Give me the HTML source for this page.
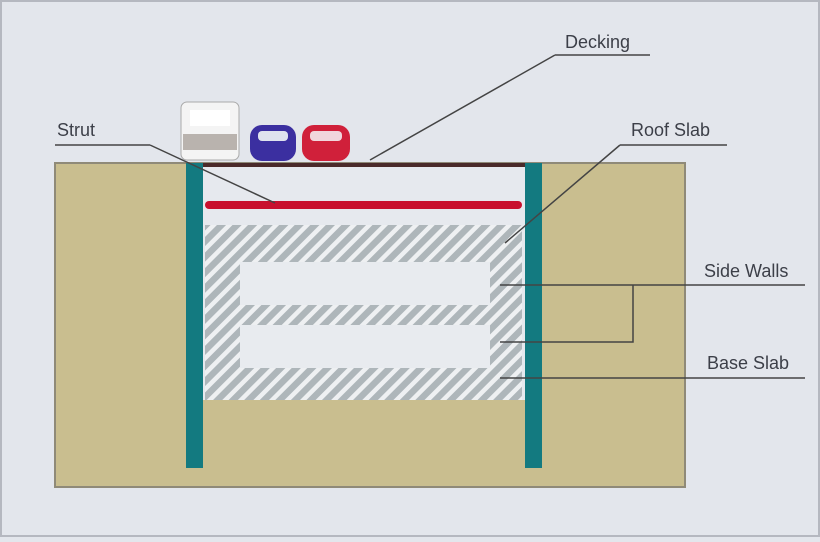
<!DOCTYPE html>
<html><head><style>
body{margin:0;width:820px;height:537px;overflow:hidden;background:#e3e6ec;font-family:"Liberation Sans",sans-serif}
</style></head><body>
<svg width="820" height="537" xmlns="http://www.w3.org/2000/svg">
<defs>
<pattern id="h" width="11" height="11" patternUnits="userSpaceOnUse" patternTransform="rotate(45)">
<rect width="11" height="11" fill="#aeb6ba"/><rect width="4.5" height="11" fill="#eef0f2"/>
</pattern>
</defs>
<rect width="820" height="537" fill="#e3e6ec"/>
<rect x="1" y="1" width="818" height="535" fill="none" stroke="#b5b8c0" stroke-width="2"/>
<rect x="55" y="163" width="630" height="324" fill="#c9be8f" stroke="#8f8a78" stroke-width="2"/>
<rect x="203" y="167" width="322" height="233" fill="#e6e9ee"/>
<rect x="205" y="225" width="317" height="175" fill="url(#h)"/>
<rect x="240" y="262" width="250" height="43" fill="#e8ebef"/>
<rect x="240" y="325" width="250" height="43" fill="#e8ebef"/>
<rect x="205" y="201" width="317" height="8" rx="4" fill="#c8102e"/>
<rect x="186" y="163" width="356" height="4" fill="#4a2a2a"/>
<rect x="186" y="163" width="17" height="305" fill="#137a80"/>
<rect x="525" y="163" width="17" height="305" fill="#137a80"/>
<rect x="181" y="102" width="58" height="58" rx="6" fill="#f4f4f4" stroke="#aaa"/>
<rect x="190" y="110" width="40" height="16" fill="#fff"/>
<rect x="183" y="134" width="54" height="16" fill="#b9b3ae"/>
<rect x="250" y="125" width="46" height="36" rx="12" fill="#3b2fa0"/>
<rect x="258" y="131" width="30" height="10" rx="4" fill="#dfe3ee"/>
<rect x="302" y="125" width="48" height="36" rx="12" fill="#d0203a"/>
<rect x="310" y="131" width="32" height="10" rx="4" fill="#f1d6dc"/>
<g stroke="#444" stroke-width="1.5" fill="none">
<path d="M555 55H650M555 55L370 160"/>
<path d="M55 145H150M150 145L275 203"/>
<path d="M620 145H727M620 145L505 243"/>
<path d="M500 285H805M633 285V342H500"/>
<path d="M500 378H805"/>
</g>
<g font-size="18" fill="#3c3f48">
<text x="565" y="48">Decking</text>
<text x="57" y="136">Strut</text>
<text x="631" y="136">Roof Slab</text>
<text x="704" y="277">Side Walls</text>
<text x="707" y="369">Base Slab</text>
</g>
</svg>
</body></html>
